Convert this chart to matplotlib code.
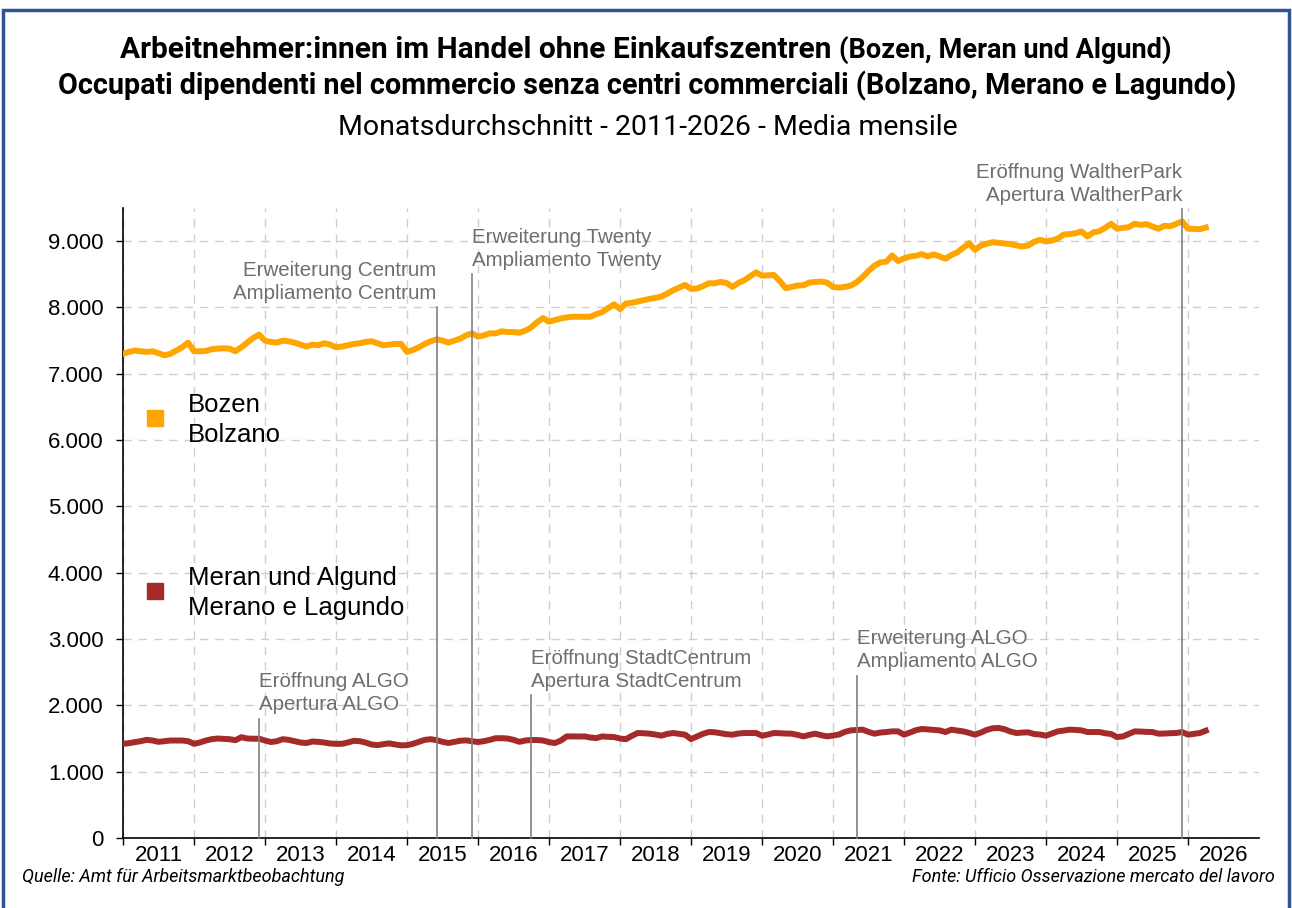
import matplotlib
matplotlib.use("Agg")
import matplotlib.pyplot as plt
import matplotlib.ticker as mticker
from matplotlib.patches import Rectangle

# monthly averages, Jan 2011 .. Apr 2026
years = list(range(2011, 2027))

bozen = [
    7300, 7330, 7350, 7340, 7330, 7340, 7310, 7280, 7300, 7350, 7400, 7470,  # 2011
    7340, 7340, 7345, 7370, 7380, 7385, 7380, 7340, 7400, 7470, 7540, 7590,  # 2012
    7500, 7480, 7470, 7500, 7490, 7470, 7440, 7410, 7440, 7430, 7460, 7440,  # 2013
    7400, 7410, 7430, 7450, 7460, 7480, 7490, 7460, 7430, 7440, 7450, 7450,  # 2014
    7330, 7360, 7400, 7450, 7490, 7520, 7500, 7470, 7500, 7530, 7580, 7610,  # 2015
    7560, 7580, 7610, 7610, 7640, 7630, 7630, 7620, 7650, 7700, 7780, 7840,  # 2016
    7785, 7810, 7835, 7850, 7860, 7860, 7860, 7860, 7900, 7930, 7990, 8047,  # 2017
    7977, 8060, 8070, 8090, 8110, 8130, 8145, 8165, 8210, 8260, 8300, 8340,  # 2018
    8280, 8285, 8320, 8365, 8365, 8385, 8370, 8310, 8370, 8410, 8470, 8530,  # 2019
    8480, 8485, 8490, 8400, 8290, 8310, 8330, 8335, 8375, 8385, 8390, 8375,  # 2020
    8310, 8300, 8310, 8330, 8380, 8460, 8550, 8630, 8680, 8690, 8785, 8700,  # 2021
    8740, 8768, 8780, 8804, 8770, 8800, 8770, 8735, 8790, 8830, 8900, 8970,  # 2022
    8869, 8935, 8960, 8985, 8975, 8965, 8955, 8935, 8920, 8935, 8990, 9020,  # 2023
    8995, 9010, 9040, 9100, 9106, 9120, 9147, 9071, 9132, 9150, 9200, 9262,  # 2024
    9187, 9200, 9213, 9262, 9245, 9257, 9220, 9187, 9232, 9225, 9260, 9297,  # 2025
    9187, 9185, 9180, 9205,                                                  # 2026
]

meran = [
    1420, 1430, 1445, 1460, 1480, 1470, 1450, 1460, 1470, 1470, 1470, 1460,
    1420, 1440, 1470, 1490, 1500, 1495, 1490, 1475, 1520, 1500, 1497, 1497,
    1470, 1447, 1460, 1490, 1480, 1460, 1440, 1432, 1455, 1450, 1440, 1425,
    1420, 1420, 1440, 1465, 1460, 1440, 1410, 1400, 1415, 1427, 1410, 1397,
    1400, 1420, 1450, 1480, 1490, 1475, 1450, 1432, 1450, 1467, 1472, 1460,
    1447, 1460, 1480, 1505, 1505, 1500, 1480, 1450, 1470, 1478, 1477, 1470,
    1445, 1432, 1470, 1532, 1532, 1530, 1532, 1515, 1507, 1532, 1525, 1522,
    1500, 1490, 1540, 1583, 1580, 1573, 1560, 1543, 1570, 1583, 1570, 1558,
    1492, 1530, 1570, 1598, 1595, 1580, 1565, 1558, 1575, 1583, 1583, 1583,
    1543, 1560, 1583, 1580, 1575, 1573, 1555, 1532, 1555, 1573, 1550, 1532,
    1545, 1560, 1600, 1623, 1628, 1634, 1600, 1573, 1590, 1598, 1608, 1608,
    1558, 1590, 1625, 1644, 1638, 1630, 1623, 1598, 1634, 1620, 1608, 1585,
    1558, 1590, 1630, 1655, 1659, 1640, 1605, 1583, 1590, 1593, 1568, 1560,
    1543, 1575, 1608, 1620, 1634, 1630, 1623, 1598, 1598, 1598, 1580, 1568,
    1522, 1532, 1570, 1608, 1605, 1600, 1598, 1573, 1575, 1580, 1583, 1598,
    1558, 1570, 1583, 1618,
]

# events: month index from Jan 2011, top of marker line, label
event_months = [23, 53, 59, 69, 124, 179]
event_tops = [1800, 8000, 8500, 2150, 2450, 9480]
event_labels = [
    "Eröffnung ALGO\nApertura ALGO",
    "Erweiterung Centrum\nAmpliamento Centrum",
    "Erweiterung Twenty\nAmpliamento Twenty",
    "Eröffnung StadtCentrum\nApertura StadtCentrum",
    "Erweiterung ALGO\nAmpliamento ALGO",
    "Eröffnung WaltherPark\nApertura WaltherPark",
]
event_side = ["left", "right", "left", "left", "left", "right"]

C_BZ = "#FFA500"
C_ME = "#A52A2A"
GREY = "#6E6E6E"

W, H = 1292, 908
fig = plt.figure(figsize=(W / 100, H / 100), dpi=100)
ax = fig.add_axes([123 / W, 1 - 838 / H, (1259 - 123) / W, (838 - 208) / H])

months = list(range(len(bozen)))
ax.plot(months, bozen, color=C_BZ, lw=4.3, solid_joinstyle="round", zorder=3)
ax.plot(list(range(len(meran))), meran, color=C_ME, lw=4.3, solid_joinstyle="round", zorder=3)

for m, top, lab, side in zip(event_months, event_tops, event_labels, event_side):
    ax.plot([m, m], [0, top], color="#808080", lw=1.2, zorder=4, clip_on=False)
    ax.annotate(lab, xy=(m, top), xytext=(0, 3), textcoords="offset points",
                ha=side, va="bottom", color=GREY, fontsize=14.8,
                family="Liberation Sans", linespacing=1.3, annotation_clip=False)

ax.set_xlim(0, 192)
ax.set_ylim(0, 9500)
ax.set_xticks(range(0, 181, 12))
ax.set_xticks([6 + 12 * i for i in range(len(years))], minor=True)
ax.set_xticklabels([])
ax.set_xticklabels([str(y) for y in years], minor=True)
ax.set_yticks(range(0, 9001, 1000))
ax.yaxis.set_major_formatter(mticker.FuncFormatter(lambda v, p: f"{int(v):,}".replace(",", ".")))
ax.tick_params(axis="x", which="minor", length=0, pad=5, labelsize=16)
ax.tick_params(axis="x", which="major", length=5, width=1)
ax.tick_params(axis="y", length=5, width=1, labelsize=16, pad=9)
for lab in ax.get_xticklabels(minor=True) + ax.get_yticklabels():
    lab.set_family("Liberation Sans")

ax.grid(True, which="major", color="#CFCFCF", ls=(0, (6, 5)), lw=1)
ax.set_axisbelow(True)
for s in ["top", "right"]:
    ax.spines[s].set_visible(False)
ax.spines["left"].set_linewidth(1.2)
ax.spines["bottom"].set_linewidth(1.2)

# legend (manual)
for yc, col, txt in [(418, C_BZ, "Bozen\nBolzano"), (591, C_ME, "Meran und Algund\nMerano e Lagundo")]:
    fig.patches.append(Rectangle((147 / W, 1 - (yc + 8) / H), 16 / W, 16 / H,
                                 transform=fig.transFigure, color=col))
    fig.text(188 / W, 1 - (yc + 2) / H, txt, ha="left", va="center", fontsize=18.5,
             family="Liberation Sans", linespacing=1.3)

# title with mixed sizes on first line
fig.canvas.draw()
r = fig.canvas.get_renderer()
p1 = fig.text(0, 0, "Arbeitnehmer:innen im Handel ohne Einkaufszentren ", fontsize=21.5,
              weight="bold", family="Roboto", va="baseline")
p2 = fig.text(0, 0, "(Bozen, Meran und Algund)", fontsize=19.5, weight="bold",
              family="Roboto", va="baseline")
w1 = p1.get_window_extent(r).width
w2 = p2.get_window_extent(r).width
x0 = (646 - (w1 + w2) / 2) / W
p1.set_position((x0, 1 - 58 / H))
p2.set_position((x0 + w1 / W, 1 - 58 / H))

fig.text(647 / W, 1 - 94 / H, "Occupati dipendenti nel commercio senza centri commerciali (Bolzano, Merano e Lagundo)",
         ha="center", va="baseline", fontsize=20.7, weight="bold", family="Roboto")
fig.text(648 / W, 1 - 135 / H, "Monatsdurchschnitt - 2011-2026 - Media mensile",
         ha="center", va="baseline", fontsize=20.5, family="Roboto")

fig.text(22 / W, 1 - 882 / H, "Quelle: Amt für Arbeitsmarktbeobachtung", ha="left",
         va="baseline", fontsize=13, style="italic", family="Roboto")
fig.text(1275 / W, 1 - 882 / H, "Fonte: Ufficio Osservazione mercato del lavoro", ha="right",
         va="baseline", fontsize=13, style="italic", family="Roboto")

# frame
fig.patches.append(Rectangle((3 / W, -0.01), (1289 - 3) / W, 1 - 10 / H + 0.01,
                             transform=fig.transFigure, fill=False, ec="#2F5496", lw=2.5))

fig.savefig("out.png", dpi=100)
